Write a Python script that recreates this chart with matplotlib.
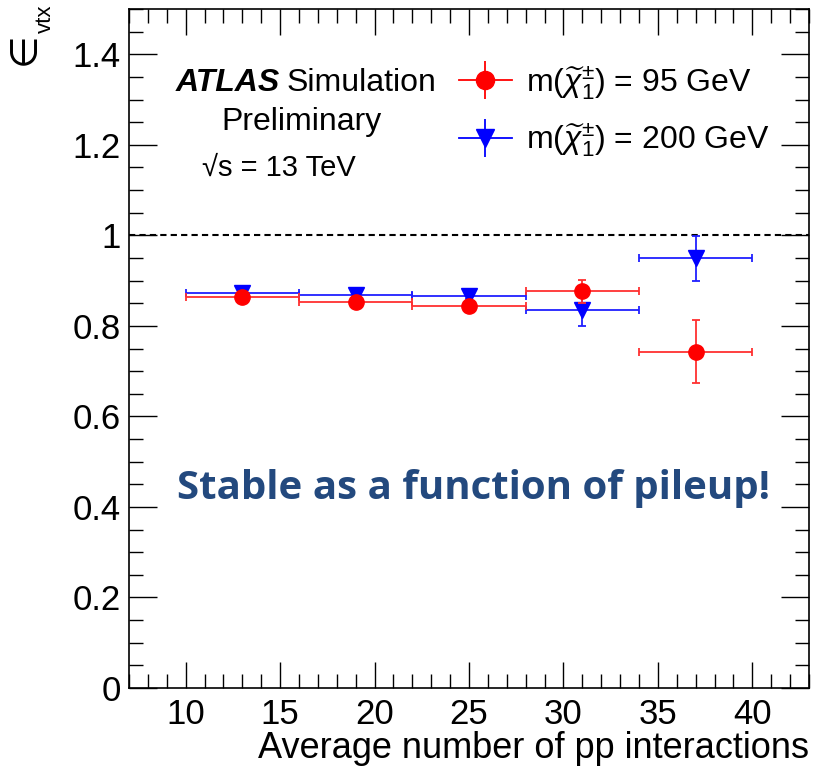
import matplotlib
matplotlib.use("Agg")
import matplotlib.pyplot as plt
from matplotlib.ticker import MultipleLocator
from matplotlib.lines import Line2D

# Data
bin_centers = [13, 19, 25, 31, 37]
bin_halfwidth = [3, 3, 3, 3, 3]
eff_95 = [0.864, 0.853, 0.843, 0.876, 0.743]
err_95 = [0.006, 0.006, 0.006, 0.025, 0.069]
eff_200 = [0.873, 0.868, 0.865, 0.834, 0.949]
err_200 = [0.006, 0.006, 0.006, 0.035, 0.049]

label_95 = r"m($\widetilde{\chi}_1^{\pm}$) = 95 GeV"
label_200 = r"m($\widetilde{\chi}_1^{\pm}$) = 200 GeV"

plt.rcParams['font.family'] = ['Liberation Sans', 'DejaVu Sans']
plt.rcParams['mathtext.fontset'] = 'custom'
plt.rcParams['mathtext.rm'] = 'Liberation Sans'
plt.rcParams['mathtext.it'] = 'Liberation Sans:italic'

RED = '#ff0000'
BLUE = '#0000ff'

fig = plt.figure(figsize=(8.14, 7.67), dpi=100)
ax = fig.add_axes([129/814, 1 - 688/767, (809-129)/814, (688-9)/767])

ax.set_xlim(7, 43)
ax.set_ylim(0, 1.5)

ax.axhline(1.0, color='black', ls=(0, (3, 2)), lw=1.5, zorder=1)

ax.errorbar(bin_centers, eff_95, xerr=bin_halfwidth, yerr=err_95, fmt='o',
            color=RED, ecolor='#ff3030', markersize=11, elinewidth=1.3,
            capsize=3, capthick=1.3, zorder=3)
ax.errorbar(bin_centers, eff_200, xerr=bin_halfwidth, yerr=err_200, fmt='v',
            color=BLUE, ecolor='#2020ff', markersize=11, elinewidth=1.3,
            capsize=3, capthick=1.3, zorder=2)

ax.xaxis.set_minor_locator(MultipleLocator(1))
ax.yaxis.set_minor_locator(MultipleLocator(0.05))
ax.set_yticks([0, 0.2, 0.4, 0.6, 0.8, 1.0, 1.2, 1.4])
ax.set_yticklabels(['0', '0.2', '0.4', '0.6', '0.8', '1', '1.2', '1.4'])
ax.set_xticks([10, 15, 20, 25, 30, 35, 40])
ax.tick_params(which='both', direction='in', top=True, right=True, labelsize=25, width=1)
ax.tick_params(which='major', length=20)
ax.tick_params(which='minor', length=10)
ax.tick_params(axis='x', which='major', length=19, pad=7)
ax.tick_params(axis='y', which='major', pad=6)
for s in ax.spines.values():
    s.set_linewidth(1.2)

ax.set_xlabel("Average number of pp interactions", fontsize=26, loc='right', labelpad=0)
# y-axis title: epsilon_vtx (rotated)
fig.text(25/814, 1 - 49/767, "\u2208", rotation=90, fontsize=27,
         family=['DejaVu Sans'], ha='center', va='center')
fig.text(45/814, 1 - 19/767, "vtx", rotation=90, fontsize=16,
         ha='center', va='center')

def leg_handle(color, marker):
    hline = Line2D([], [], color=color, lw=1.3)
    vline = Line2D([], [], color=color, marker='|', markersize=28, markeredgewidth=1.3, ls='none')
    mk = Line2D([], [], color=color, marker=marker, markersize=13, ls='none')
    return (hline, vline, mk)

leg = ax.legend([leg_handle(RED, 'o'), leg_handle(BLUE, 'v')], [label_95, label_200],
                loc='upper left', bbox_to_anchor=((459-129)/680, (688-64)/679),
                borderpad=0, borderaxespad=0, frameon=False,
                fontsize=23, handlelength=1.65, handletextpad=0.45, labelspacing=0.62)

# ATLAS label
fig.text(176/814, 1 - 83/767, "ATLAS", fontsize=23, fontweight='bold', style='italic',
         ha='left', va='center')
fig.text(287/814, 1 - 83/767, "Simulation", fontsize=23, ha='left', va='center')
fig.text(302/814, 1 - 122/767, "Preliminary", fontsize=23, ha='center', va='center')
fig.text(279/814, 1 - 168/767, "\u221as = 13 TeV", fontsize=21, ha='center', va='center')

fig.text(474/814, 1 - 489/767, "Stable as a function of pileup!", fontsize=29,
         fontweight='bold', color='#23497e', family=['Open Sans', 'DejaVu Sans'],
         ha='center', va='center')

fig.savefig("out.png", dpi=100)
